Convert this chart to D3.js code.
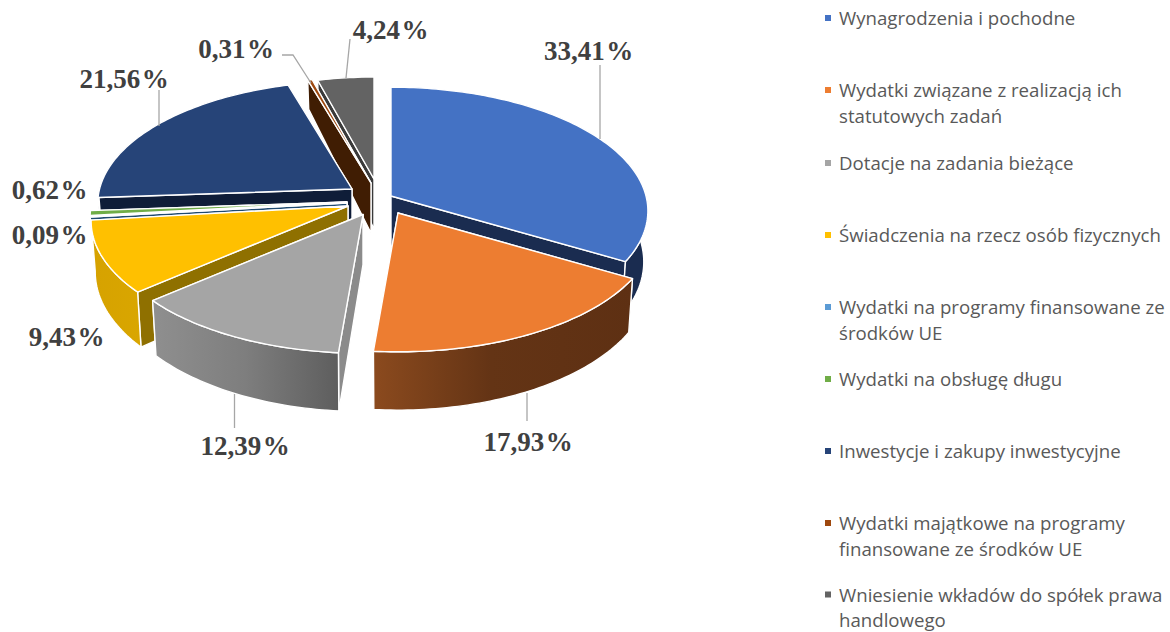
<!DOCTYPE html>
<html><head><meta charset="utf-8">
<script src="https://cdn.jsdelivr.net/npm/d3@7"></script>
<style>html,body{margin:0;padding:0;background:#fff}svg{display:block}</style>
</head><body><svg id="c" width="1170" height="632"></svg>
<script>
const categories=[["Wynagrodzenia i pochodne"],["Wydatki związane z realizacją ich","statutowych zadań"],["Dotacje na zadania bieżące"],["Świadczenia na rzecz osób fizycznych"],["Wydatki na programy finansowane ze","środków UE"],["Wydatki na obsługę długu"],["Inwestycje i zakupy inwestycyjne"],["Wydatki majątkowe na programy","finansowane ze środków UE"],["Wniesienie wkładów do spółek prawa","handlowego"]];
const values=[33.41,17.93,12.39,9.43,0.09,0.62,21.56,0.31,4.24];
const labels=["33,41","17,93","12,39","9,43","0,09","0,62","21,56","0,31","4,24"];
const topColors=["#4472c4","#ed7d31","#a5a5a5","#ffc000","#5b9bd5","#70ad47","#264478","#9e480e","#636363"];
const radialColors=["#1a2c50","#5f3113","#8b8b8b","#8f7000","#1f4a70","#3d6b2a","#0f1d38","#401d03","#3a3a3a"];
const apexX=[391,398,363,348,347,347,352,371,374];
const apexY=[196,213,214.5,206,203,202,189,183,179];
const radiusFactor=[1,1,1,1,1,1,.99,.98,.93];
const paintOrder=[8,7,6,5,4,3,2,0,1];
const legendY=[18,90,163,235,307,379,451,523,594.5];
const labelX=[588.5,528,245,66.5,49.5,49.5,124,236,390.5];
const labelY=[60,451,455,346,244,199,88,58,39];
const leaders=[[[600,65],[600,139]],[[527,393],[527,421]],[[234.5,394],[234.5,428]],[[159,90],[159,126]],[[350,39],[346,78]],[[282,55],[293,55],[311,83]]];

const svg=d3.select("#c");
const defs=svg.append("defs");
function grad(id,stops,x1,x2){const g=defs.append("linearGradient").attr("id",id).attr("gradientUnits","userSpaceOnUse").attr("x1",x1).attr("x2",x2).attr("y1",0).attr("y2",0);stops.forEach(s=>g.append("stop").attr("offset",s[0]).attr("stop-color",s[1]));return `url(#${id})`;}
const outerFill=[
 "#1a2c50",
 grad("go",[[0,"#8b4a1e"],[.45,"#643415"],[1,"#5e3013"]],374,633),
 grad("gg",[[0,"#8f8f8f"],[.5,"#7e7e7e"],[1,"#5e5e5e"]],152,338),
 grad("gy",[[0,"#d6a200"],[1,"#d9a600"]],91,140),
 "#1f4a70","#3d6b2a","#0f1d38","#401d03","#3a3a3a"];

const pie=d3.pie().sort(null).value(d=>d).startAngle(0).endAngle(2*Math.PI);
const arcs=pie(values);
const k=.121, rx=d3.scaleLinear().domain([0,1]).range([0,255]), ry=d3.scaleLinear().domain([0,1]).range([0,122]);
function project(i,ang,r){
  const f=r*radiusFactor[i], X=Math.sin(ang)*f, Y=-Math.cos(ang)*f, s=1/(1-k*Y);
  return [apexX[i]+rx(X)*s, apexY[i]+ry(Y)*s];
}
function drop(i,p){
  const dx=p[0]-apexX[i], dy=p[1]-apexY[i];
  const depth=dy>=0?50+.06*dy:50+.2*dy;
  return [apexX[i]+dx*.984, p[1]+depth];
}
const line=d3.line();
function sample(a,b){const n=Math.max(2,Math.ceil(Math.abs(b-a)/.02));return d3.range(n+1).map(j=>a+(b-a)*j/n);}
const g=svg.append("g");
paintOrder.forEach(i=>{
  const a=arcs[i], s=g.append("g");
  const style=(p,fill)=>p.attr("fill",fill).attr("stroke","#fff").attr("stroke-width",1.4).attr("stroke-linejoin","round");
  // the radial wall nearer the viewer is painted last
  const walls=[a.startAngle,a.endAngle].sort((u,v)=>project(i,u,1)[1]-project(i,v,1)[1]);
  walls.forEach(ang=>{
    const o=project(i,ang,1), c=[apexX[i],apexY[i]];
    style(s.append("path").attr("d",line([c,o,drop(i,o),drop(i,c)])+"Z"),radialColors[i]);
  });
  const lo=Math.max(a.startAngle,75*Math.PI/180), hi=Math.min(a.endAngle,268*Math.PI/180);
  if(hi>lo){
    const top=sample(lo,hi).map(t=>project(i,t,1));
    style(s.append("path").attr("d",line(top.concat(top.map(p=>drop(i,p)).reverse()))+"Z"),outerFill[i]);
  }
  const rim=sample(a.startAngle,a.endAngle).map(t=>project(i,t,1));
  style(s.append("path").attr("d",line([[apexX[i],apexY[i]]].concat(rim))+"Z"),topColors[i]);
});
leaders.forEach(l=>svg.append("path").attr("d",line(l)).attr("fill","none").attr("stroke","#a6a6a6").attr("stroke-width",1.3));
labels.forEach((t,i)=>{
  const tx=svg.append("text").attr("x",labelX[i]).attr("y",labelY[i]).attr("text-anchor","middle")
  .attr("font-family","'Liberation Serif',serif").attr("font-weight","bold").attr("font-size",27).attr("fill","#404040").text(t);
  tx.append("tspan").attr("dx",1.5).text("%");
});
categories.forEach((lines,i)=>{
  svg.append("rect").attr("x",825).attr("y",legendY[i]-3).attr("width",6).attr("height",6).attr("fill",topColors[i]);
  const tx=svg.append("text").attr("font-family","'Open Sans',sans-serif").attr("font-size",18.65).attr("fill","#595959");
  lines.forEach((ln,j)=>tx.append("tspan").attr("x",839).attr("y",legendY[i]+7+j*25.5).text(ln));
});
</script></body></html>
